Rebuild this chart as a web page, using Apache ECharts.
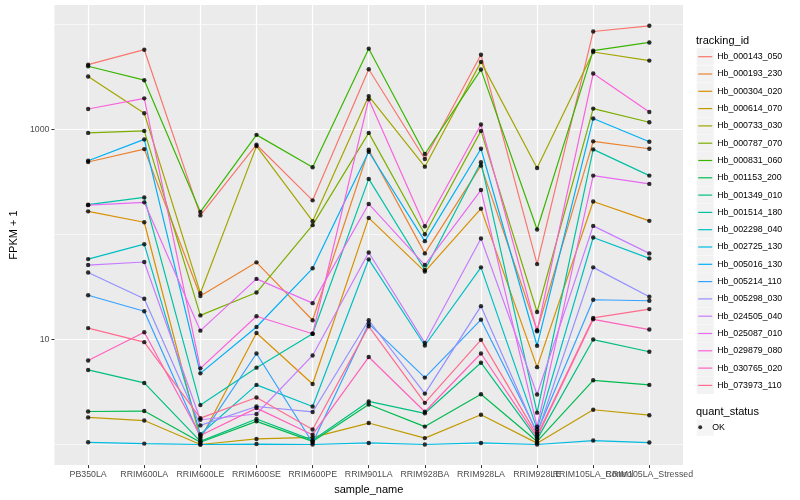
<!DOCTYPE html>
<html>
<head>
<meta charset="utf-8">
<script src="https://cdn.jsdelivr.net/npm/echarts@6/dist/echarts.min.js"></script>
<style>
html,body{margin:0;padding:0;background:#ffffff;}
#chart{width:800px;height:500px;}
</style>
</head>
<body>
<div id="chart"></div>
<script>
// ---------- data ----------
const categories = ['PB350LA','RRIM600LA','RRIM600LE','RRIM600SE','RRIM600PE','RRIM901LA','RRIM928BA','RRIM928LA','RRIM928LE','RRIM105LA_Control','RRIM105LA_Stressed'];
const yTickLabels = [10, 1000];
const yMinorGrid = [1, 100, 10000];

const Hb_000143_050 = [4100, 5690, 151, 710, 210, 3710, 519, 5100, 52, 8470, 9600];
const Hb_000193_230 = [486, 645, 25.8, 54, 15.2, 636, 65.7, 449, 12.2, 764, 650];
const Hb_000304_020 = [165, 130, 1.12, 11.5, 3.76, 143, 44.1, 175, 5.44, 205, 134];
const Hb_000614_070 = [1.81, 1.69, 1.0, 1.13, 1.17, 1.6, 1.15, 1.92, 1.03, 2.14, 1.9];
const Hb_000733_030 = [3160, 1413, 27.5, 689, 133, 2060, 439, 4355, 427, 5410, 4480];
const Hb_000787_070 = [920, 961, 16.9, 27.9, 122, 920, 100, 961, 18.2, 1566, 1162];
const Hb_000831_060 = [3957, 2917, 163, 881, 434, 5818, 579, 3681, 111, 5570, 6670];
const Hb_001153_200 = [2.06, 2.08, 1.05, 1.66, 1.07, 2.4, 1.48, 3.01, 1.07, 4.08, 3.69];
const Hb_001349_010 = [5.12, 3.85, 1.07, 1.75, 1.1, 2.57, 1.98, 6.0, 1.12, 9.96, 7.62];
const Hb_001514_180 = [191, 224, 2.37, 5.38, 11.3, 336, 45.7, 483, 2.01, 641, 361];
const Hb_002298_040 = [58, 80.4, 1.25, 3.69, 2.3, 57.7, 8.74, 48.4, 1.4, 93, 58.9];
const Hb_002725_130 = [1.05, 1.02, 1.0, 1.01, 1.0, 1.035, 1.0, 1.035, 1.0, 1.09, 1.044];
const Hb_005016_130 = [500, 798, 4.75, 13.1, 47.4, 609, 85.9, 650, 8.7, 1259, 757];
const Hb_005214_110 = [26.3, 18.5, 1.17, 7.34, 1.04, 14.1, 4.33, 15.4, 1.31, 23.8, 23.3];
const Hb_005298_030 = [43.2, 24.3, 1.52, 2.3, 2.04, 15.2, 3.05, 20.7, 1.26, 48.4, 25.4];
const Hb_024505_040 = [50.9, 54.4, 1.72, 1.95, 7.03, 67.1, 9.27, 91, 2.99, 120, 65.7];
const Hb_025087_010 = [189, 201, 12.1, 37.6, 22.1, 194, 50.9, 263, 1.48, 361, 301];
const Hb_029879_080 = [1552, 1960, 5.3, 16.6, 11.3, 1918, 119, 1105, 11.96, 3375, 1454];
const Hb_030765_020 = [6.3, 11.7, 1.22, 2.22, 1.24, 6.79, 2.05, 7.34, 1.17, 15.5, 12.4];
const Hb_073973_110 = [12.8, 9.41, 1.78, 2.8, 1.39, 13.3, 2.49, 9.89, 1.22, 16.0, 19.4];

const trackingIds = ['Hb_000143_050','Hb_000193_230','Hb_000304_020','Hb_000614_070','Hb_000733_030','Hb_000787_070','Hb_000831_060','Hb_001153_200','Hb_001349_010','Hb_001514_180','Hb_002298_040','Hb_002725_130','Hb_005016_130','Hb_005214_110','Hb_005298_030','Hb_024505_040','Hb_025087_010','Hb_029879_080','Hb_030765_020','Hb_073973_110'];
const seriesValues = [Hb_000143_050,Hb_000193_230,Hb_000304_020,Hb_000614_070,Hb_000733_030,Hb_000787_070,Hb_000831_060,Hb_001153_200,Hb_001349_010,Hb_001514_180,Hb_002298_040,Hb_002725_130,Hb_005016_130,Hb_005214_110,Hb_005298_030,Hb_024505_040,Hb_025087_010,Hb_029879_080,Hb_030765_020,Hb_073973_110];
const quantStatus = ['OK'];

// ---------- styles ----------
const palette = ['#F8766D','#EA8331','#D89000','#C09B00','#A3A500','#7CAE00','#39B600','#00BB4E','#00BF7D','#00C1A3','#00BFC4','#00BAE0','#00B0F6','#35A2FF','#9590FF','#C77CFF','#E76BF3','#FA62DB','#FF62BC','#FF6C91'];
const FONT = '"Liberation Sans", Arial, Helvetica, sans-serif';
const Y_MIN = 0.637, Y_MAX = 15140;
const X_MIN = 0.4, X_MAX = 11.6;

const xTickValues = categories.map((c, i) => i + 1);
// an extra empty label at the axis end keeps ECharts' end-label overlap check away from the real labels
const xLabelValues = xTickValues.concat([X_MAX]);

const series = trackingIds.map((id, i) => ({
  name: id,
  type: 'line',
  xAxisIndex: 0,
  yAxisIndex: 0,
  data: seriesValues[i].map((v, j) => [j + 1, v]),
  symbol: 'none',
  color: palette[i],
  itemStyle: { color: palette[i] },
  lineStyle: { width: 1.2, color: palette[i] },
  emphasis: { disabled: true },
  silent: true,
  animation: false,
  z: 2
}));
const points = [];
seriesValues.forEach(arr => arr.forEach((v, j) => points.push([j + 1, v])));
series.push({
  name: 'OK',
  type: 'scatter',
  xAxisIndex: 0,
  yAxisIndex: 0,
  data: points,
  symbol: 'circle',
  symbolSize: 4.4,
  itemStyle: { color: '#000000' },
  emphasis: { disabled: true },
  silent: true,
  animation: false,
  z: 3
});

const legendText = { fontSize: 8.8, lineHeight: 17.3, color: '#000000', fontFamily: FONT };

const option = {
  animation: false,
  backgroundColor: '#ffffff',
  textStyle: { fontFamily: FONT },
  title: [
    { text: 'tracking_id', left: 696, top: 34, padding: 0,
      textStyle: { fontSize: 11, fontWeight: 'normal', color: '#000000', fontFamily: FONT, lineHeight: 13 } },
    { text: 'quant_status', left: 696, top: 405, padding: 0,
      textStyle: { fontSize: 11, fontWeight: 'normal', color: '#000000', fontFamily: FONT, lineHeight: 13 } }
  ],
  legend: [
    { data: trackingIds, orient: 'vertical', left: 696.7, top: 48.2, padding: 0,
      itemWidth: 17, itemHeight: 17, itemGap: 0.3, icon: 'rect',
      itemStyle: { color: '#F2F2F2' }, formatter: () => '',
      textStyle: { fontSize: 1, lineHeight: 1 }, selectedMode: false },
    { data: trackingIds, orient: 'vertical', left: 698.2, top: 48.05, padding: 0,
      itemWidth: 14, itemHeight: 1.2, itemGap: 0, icon: 'rect',
      textStyle: legendText, selectedMode: false },
    { data: quantStatus, orient: 'vertical', left: 696.7, top: 418.8, padding: 0,
      itemWidth: 17, itemHeight: 17, itemGap: 0, icon: 'rect',
      itemStyle: { color: '#F2F2F2' }, formatter: () => '',
      textStyle: { fontSize: 1, lineHeight: 1 }, selectedMode: false },
    { data: quantStatus, orient: 'vertical', left: 698.2, top: 418.65, padding: 0,
      itemWidth: 14, itemHeight: 4, itemGap: 0, symbolKeepAspect: true,
      icon: 'path://M2,1A1,1,0,1,1,0,1A1,1,0,1,1,2,1Z',
      textStyle: legendText, selectedMode: false }
  ],
  grid: {
    left: 45, top: 5, width: 638, height: 463,
    show: true, backgroundColor: '#EBEBEB', borderWidth: 0, containLabel: false
  },
  xAxis: [{
    type: 'value', gridIndex: 0, min: X_MIN, max: X_MAX,
    name: 'sample_name', nameLocation: 'middle', nameGap: 14.5,
    nameTextStyle: { fontSize: 11, color: '#000000', fontFamily: FONT },
    axisLine: { show: false },
    axisTick: { show: true, length: 3, lineStyle: { color: '#333333', width: 1 }, customValues: xTickValues },
    axisLabel: { customValues: xLabelValues,
      formatter: v => (Math.abs(v - Math.round(v)) < 1e-6 ? (categories[Math.round(v) - 1] || '') : ''),
      hideOverlap: false,
      fontSize: 8.8, color: '#4D4D4D', margin: 5, fontFamily: FONT },
    splitLine: { show: true, lineStyle: { color: '#FFFFFF', width: 1.2 } }
  }],
  yAxis: [{
    type: 'log', logBase: 10, gridIndex: 0, min: Y_MIN, max: Y_MAX,
    name: 'FPKM + 1', nameLocation: 'middle', nameGap: 27, nameRotate: 90,
    nameTextStyle: { fontSize: 11, color: '#000000', fontFamily: FONT },
    axisLine: { show: false },
    axisTick: { show: true, length: 3, lineStyle: { color: '#333333', width: 1 }, customValues: yTickLabels },
    axisLabel: { customValues: yTickLabels, formatter: v => String(Math.round(v)),
      fontSize: 8.8, color: '#4D4D4D', margin: 5, fontFamily: FONT },
    splitLine: { show: true, lineStyle: { color: '#FFFFFF', width: 1.2 } }
  }, {
    type: 'log', logBase: 10, gridIndex: 0, min: Y_MIN, max: Y_MAX, position: 'right',
    axisLine: { show: false },
    axisTick: { show: false, customValues: yMinorGrid },
    axisLabel: { show: false, customValues: yMinorGrid },
    splitLine: { show: true, lineStyle: { color: '#FFFFFF', width: 0.6 } }
  }],
  series: series
};

const chart = echarts.init(document.getElementById('chart'), null, { renderer: 'canvas' });
chart.setOption(option);
</script>
</body>
</html>
